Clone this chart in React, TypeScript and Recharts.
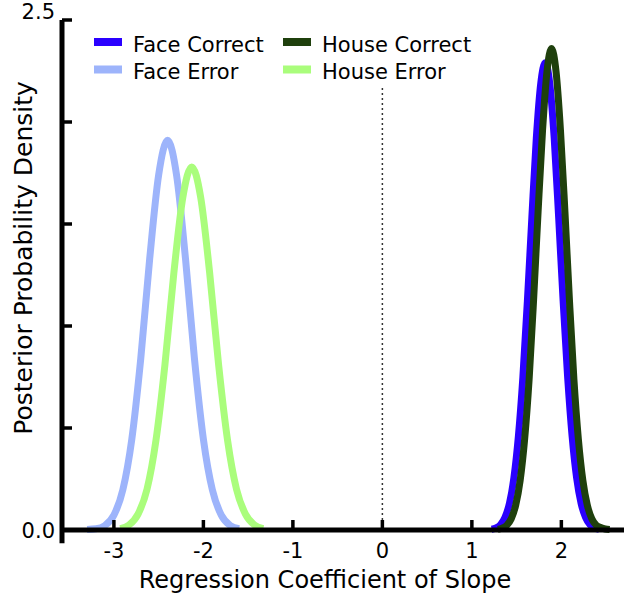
import React from 'react';
import { LineChart, Line, XAxis, YAxis, ReferenceLine, Legend, Label } from 'recharts';

// tick values
const xTicks = [-3, -2, -1, 0, 1, 2];
const yTicks = [0, 0.5, 1, 1.5, 2, 2.5];
const yLabelled = [0, 2.5];

// series
const faceErrorX = [-3.3, -3.2, -3.1, -3.0, -2.9, -2.8, -2.7, -2.6, -2.5, -2.4, -2.3, -2.2, -2.1, -2.0, -1.9, -1.8, -1.7, -1.6];
const faceErrorY = [0.003, 0.006, 0.022, 0.073, 0.197, 0.445, 0.84, 1.33, 1.74, 1.91, 1.74, 1.33, 0.84, 0.445, 0.197, 0.073, 0.022, 0.006];

const houseErrorX = [-2.93, -2.83, -2.73, -2.63, -2.53, -2.43, -2.33, -2.23, -2.13, -2.03, -1.93, -1.83, -1.73, -1.63, -1.53, -1.43, -1.33];
const houseErrorY = [0.007, 0.025, 0.078, 0.2, 0.44, 0.81, 1.26, 1.63, 1.78, 1.63, 1.26, 0.81, 0.44, 0.2, 0.078, 0.025, 0.007];

const faceCorrectX = [1.22, 1.27, 1.32, 1.37, 1.42, 1.47, 1.52, 1.57, 1.62, 1.67, 1.72, 1.77, 1.82, 1.87, 1.92, 1.97, 2.02, 2.07, 2.12, 2.17, 2.22, 2.27, 2.32, 2.37, 2.42];
const faceCorrectY = [0.004, 0.01, 0.026, 0.062, 0.131, 0.257, 0.46, 0.75, 1.12, 1.53, 1.92, 2.19, 2.29, 2.19, 1.92, 1.53, 1.12, 0.75, 0.46, 0.257, 0.131, 0.062, 0.026, 0.01, 0.004];

const houseCorrectX = [1.29, 1.34, 1.39, 1.44, 1.49, 1.54, 1.59, 1.64, 1.69, 1.74, 1.79, 1.84, 1.89, 1.94, 1.99, 2.04, 2.09, 2.14, 2.19, 2.24, 2.29, 2.34, 2.39, 2.44, 2.49, 2.54];
const houseCorrectY = [0.003, 0.009, 0.023, 0.055, 0.122, 0.244, 0.446, 0.74, 1.13, 1.56, 1.96, 2.25, 2.36, 2.25, 1.96, 1.56, 1.13, 0.74, 0.446, 0.244, 0.122, 0.055, 0.023, 0.012, 0.005, 0.002];

const zip = (xs: number[], ys: number[]) => xs.map((x, i) => ({ x, y: ys[i] }));

const FONT = 'DejaVu Sans';

const series = [
  { name: 'Face Correct', color: '#2a00ff', data: zip(faceCorrectX, faceCorrectY) },
  { name: 'Face Error', color: '#9db4fb', data: zip(faceErrorX, faceErrorY) },
  { name: 'House Correct', color: '#1f400d', data: zip(houseCorrectX, houseCorrectY) },
  { name: 'House Error', color: '#aafd7c', data: zip(houseErrorX, houseErrorY) },
];
// draw order: errors first, green on top
const drawOrder = ['Face Error', 'House Error', 'Face Correct', 'House Correct'];

const XTick = (props: any) => {
  const { x, y, payload } = props;
  return (
    <g>
      <line x1={x} x2={x} y1={y} y2={y - 10} stroke="#000" strokeWidth={3.5} />
      <text x={x} y={y + 28} textAnchor="middle" fontSize={21} fontFamily={FONT} fill="#000">
        {payload.value}
      </text>
    </g>
  );
};

const YTick = (props: any) => {
  const { x, y, payload } = props;
  const v = payload.value;
  const show = yLabelled.includes(v);
  const baseY = v === 2.5 ? y - 1 : y + 7.5;
  return (
    <g>
      <line x1={x} x2={x + 10} y1={y} y2={y} stroke="#000" strokeWidth={3.5} />
      {show && (
        <text x={x - 7} y={baseY} textAnchor="end" fontSize={21} fontFamily={FONT} fill="#000">
          {v.toFixed(1)}
        </text>
      )}
    </g>
  );
};

const LegendBox = () => {
  const cols = [94, 283];
  const rows = [42, 69.5];
  return (
    <svg width={624} height={100} style={{ display: 'block' }}>
      {series.map((s, i) => {
        const cx = cols[Math.floor(i / 2)];
        const cy = rows[i % 2];
        return (
          <g key={s.name}>
            <rect x={cx} y={cy - 4} width={28} height={8} fill={s.color} />
            <text x={cx + 39} y={cy + 9.5} fontSize={21} fontFamily={FONT} fill="#000">
              {s.name}
            </text>
          </g>
        );
      })}
    </svg>
  );
};

export default function App() {
  const ordered = drawOrder.map((n) => series.find((s) => s.name === n)!);
  return (
    <div style={{ position: 'absolute', left: 0, top: 0, background: '#fff' }}>
      <LineChart width={624} height={602} margin={{ top: 20, right: 0, bottom: 0, left: 0 }}>
        <XAxis
          type="number"
          dataKey="x"
          domain={[-3.58, 2.7]}
          ticks={xTicks}
          allowDataOverflow
          height={72}
          tickSize={0}
          tickMargin={0}
          tickLine={false}
          tick={<XTick />}
          axisLine={{ stroke: '#000', strokeWidth: 5 }}
        >
          <Label
            content={() => (
              <text x={325} y={588} textAnchor="middle" fontSize={24} fontFamily={FONT} fill="#000">
                Regression Coefficient of Slope
              </text>
            )}
          />
        </XAxis>
        <YAxis
          type="number"
          domain={[0, 2.5]}
          ticks={yTicks}
          width={62}
          tickSize={0}
          tickMargin={0}
          tickLine={false}
          tick={<YTick />}
          axisLine={{ stroke: '#000', strokeWidth: 5 }}
        >
          <Label
            content={() => (
              <text
                x={23}
                y={258}
                transform="rotate(-90 23 258)"
                textAnchor="middle"
                dominantBaseline="central"
                fontSize={25}
                fontFamily={FONT}
                fill="#000"
              >
                Posterior Probability Density
              </text>
            )}
          />
        </YAxis>
        <ReferenceLine
          segment={[{ x: 0, y: 0 }, { x: 0, y: 2.17 }]}
          stroke="#333"
          strokeWidth={1.5}
          strokeDasharray="2 3"
        />
        <ReferenceLine
          segment={[{ x: -3.58, y: 0 }, { x: -3.58, y: -0.065 }]}
          stroke="#000"
          strokeWidth={5}
          ifOverflow="visible"
        />
        {ordered.map((s) => (
          <Line
            key={s.name}
            data={s.data}
            dataKey="y"
            type="monotone"
            stroke={s.color}
            strokeWidth={7}
            dot={false}
            activeDot={false}
            isAnimationActive={false}
          />
        ))}
        <Legend
          layout="horizontal"
          verticalAlign="middle"
          wrapperStyle={{ position: 'absolute', top: 0, left: 0, width: 624, height: 100 }}
          content={() => <LegendBox />}
        />
      </LineChart>
    </div>
  );
}
